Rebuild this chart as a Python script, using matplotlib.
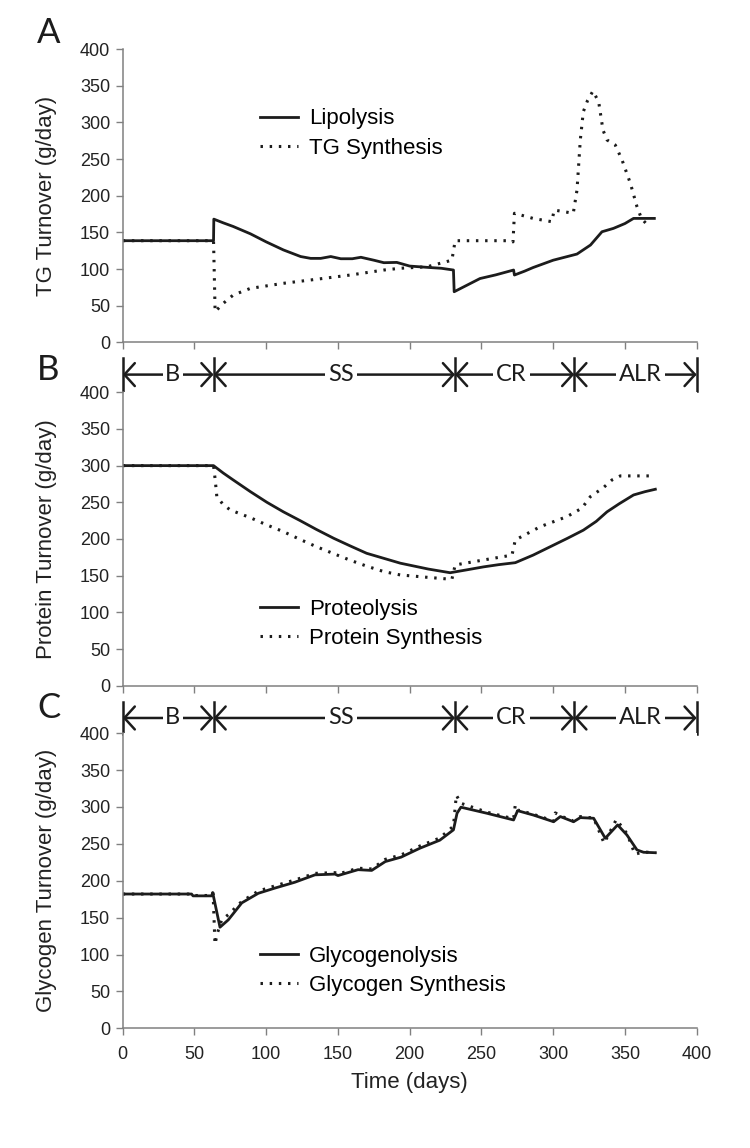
import matplotlib
matplotlib.use('Agg')
import matplotlib.pyplot as plt
import matplotlib.transforms as mtransforms

plt.rcParams['font.family'] = ['Liberation Sans', 'DejaVu Sans']

# ---- Panel A: TG turnover ----
lipo_t = [0, 63.3, 63.5, 70, 77, 89, 100, 112, 124, 131, 138, 145, 152, 160, 166, 175, 182,
          191, 200, 214, 222, 230.5, 231, 240, 249, 260, 272.4, 273, 280, 286, 300, 316.6,
          326, 334, 342, 350, 356, 370.5]
lipo = [138.6, 138.6, 168, 163, 158, 148, 137, 126, 117, 114.5, 114.5, 117, 114, 114, 116, 112,
        108.6, 109, 104, 102, 101, 98.6, 69, 78, 87, 92, 98.6, 91.8, 97, 102, 112, 120.4,
        132.7, 150.8, 155.4, 162, 169, 169]
tgs_t = [0, 63.3, 64.4, 70, 77, 89, 112, 135, 158.6, 182, 193.4, 212, 229.4, 231.7, 270, 272,
         273, 286, 299, 300.7, 314, 316.6, 318.9, 321, 324, 327.7, 331.7, 334.7, 337.5, 343.3,
         348, 353.8, 358.4, 361.5, 367.2]
tgs = [138.6, 138.6, 41.8, 53, 64.5, 73.6, 80.5, 86, 91.8, 98.6, 101, 103, 112, 138.6, 138.6,
       137, 176, 169, 164.5, 180.4, 176, 207.7, 276, 314.5, 330, 342.7, 328, 289.5, 276, 269,
       248.6, 216.8, 185, 169, 156.8]

# ---- Panel B: protein turnover ----
prot_t = [0, 63.3, 70, 77, 89, 100.5, 112, 123.7, 135, 147, 158.6, 170, 182, 193.5, 213, 228.2,
          240, 251.5, 262, 273.6, 286, 298, 310, 321, 330, 337.5, 346, 356, 364, 371.2]
prot = [300, 300, 290, 280.5, 264.5, 250, 237, 225, 213, 201, 190.5, 180.5, 173.6, 167, 159, 154,
        158, 162, 165, 167.7, 178, 189.5, 201, 212, 224, 237, 248, 260, 264.5, 267.8]
psyn_t = [0, 63.3, 64.5, 65.6, 70, 75, 89, 100, 112, 123.5, 135, 147, 158.6, 170, 182, 193.4,
          212, 229.4, 231.7, 251.5, 271.3, 273.6, 291, 309.6, 320, 325.9, 335, 341, 346.8, 367.7]
psyn = [300, 300, 280, 257.7, 247, 239.5, 229, 219.5, 210, 199.5, 189.5, 180, 171, 163, 155.5,
        151, 147.8, 145, 164.6, 171.4, 178, 198.7, 216.8, 230.5, 242, 257.7, 270, 280.5, 286, 286]

# ---- Panel C: glycogen turnover ----
glyc_t = [0, 48, 49, 62, 62.7, 67.8, 73.6, 83, 94.5, 106, 120, 134, 148, 150, 164, 173.5, 183,
          194, 207, 221, 230.5, 233, 235.7, 253.8, 272.4, 275.2, 286.3, 300.3, 305, 314.2,
          318.9, 328.2, 336.3, 344.9, 351.4, 358.4, 363, 371.2]
glyc = [182, 182, 179.5, 179.5, 184, 137, 147, 170, 183, 190, 198, 208, 209, 207, 215, 214, 226,
        232, 244, 255, 269, 291.5, 299.7, 291.5, 282.4, 295, 289, 280, 287, 280, 285.6, 284.7,
        257.6, 275.7, 262, 241.8, 238.6, 238]
gsyn_t = [0, 48, 49, 62, 63, 64.3, 66, 69, 73.6, 83, 94.5, 106, 120, 134, 148, 150, 164, 173.5,
          183, 194, 207, 221, 230.5, 232.5, 235.7, 253.8, 272.4, 273.6, 275.2, 286.3, 300.3,
          301.5, 305, 314.2, 318.9, 328.2, 335.5, 344, 351.4, 357, 363, 371.2]
gsyn = [182, 182, 180, 180, 183, 114, 129, 147, 154, 172, 186, 193, 201, 210, 211, 209, 217, 216,
        229, 235, 247, 258, 274, 316, 305, 293, 284, 303, 296, 290, 281, 292, 288, 281, 287, 285,
        251, 283, 264, 236, 239, 238]

# phases
phase_edges = [0, 63.3, 231.6, 314.7, 400]
phase_labels = ['B', 'SS', 'CR', 'ALR']
phase_label_x = [35, 152, 271, 361]

panels = [
    ('A', 'TG Turnover (g/day)', lipo_t, lipo, 'Lipolysis', tgs_t, tgs, 'TG Synthesis', 0.712),
    ('B', 'Protein Turnover (g/day)', prot_t, prot, 'Proteolysis', psyn_t, psyn, 'Protein Synthesis', 0.21),
    ('C', 'Glycogen Turnover (g/day)', glyc_t, glyc, 'Glycogenolysis', gsyn_t, gsyn, 'Glycogen Synthesis', 0.194),
]
ax_rects = [
    [0.1636, 0.7018, 0.7653, 0.2555],
    [0.1636, 0.4027, 0.7653, 0.2556],
    [0.1636, 0.1043, 0.7653, 0.2570],
]
letter_y = [1148 - 43, 1148 - 380, 1148 - 718]

ink = '#1c1c1c'
axis_gray = '#808080'
thin_font = ['Lato', 'DejaVu Sans']

fig = plt.figure(figsize=(7.5, 11.48), dpi=100)
axes = []
for i, (letter, ylab, t1, y1, l1, t2, y2, l2, leg_y) in enumerate(panels):
    ax = fig.add_axes(ax_rects[i])
    axes.append(ax)
    ax.plot(t1, y1, color=ink, lw=2.0, label=l1)
    ax.plot(t2, y2, color=ink, lw=2.2, linestyle=(0, (0.8, 2.2)), label=l2)
    ax.set_xlim(0, 400)
    ax.set_ylim(0, 400)
    ax.set_xticks(range(0, 401, 50))
    ax.set_yticks(range(0, 401, 50))
    for s in ['top', 'right']:
        ax.spines[s].set_visible(False)
    for s in ['left', 'bottom']:
        ax.spines[s].set_color(axis_gray)
        ax.spines[s].set_linewidth(1.1)
    ax.tick_params(direction='out', length=5, width=1, color=axis_gray,
                   labelsize=13, labelcolor='#222222')
    ax.tick_params(axis='y', pad=4)
    ax.tick_params(axis='x', pad=8)
    if i < 2:
        ax.tick_params(axis='x', labelbottom=False)
    ax.set_ylabel(ylab, fontsize=16, color='#222222')
    ax.yaxis.set_label_coords(-0.114, 0.5)
    ax.legend(loc='center left', bbox_to_anchor=(0.239, leg_y), frameon=False,
              borderpad=0, borderaxespad=0, handlelength=1.7, handletextpad=0.5,
              labelspacing=0.37, fontsize=16)
    fig.text(37 / 750, letter_y[i] / 1148, letter, fontsize=25, family=thin_font,
             color=ink, ha='left', va='baseline')

axes[2].set_xlabel('Time (days)', fontsize=16, color='#222222', labelpad=6)

# phase bars below panels A and B
for ax in axes[:2]:
    trans = mtransforms.blended_transform_factory(ax.transData, ax.transAxes)
    yb = -0.11
    for a, b in zip(phase_edges[:-1], phase_edges[1:]):
        ax.annotate('', xy=(a, yb), xytext=(b, yb), xycoords=trans, textcoords=trans,
                    arrowprops=dict(arrowstyle='<->,head_length=0.5,head_width=0.55',
                                    lw=1.8, color=ink, shrinkA=0, shrinkB=0,
                                    mutation_scale=15),
                    annotation_clip=False)
    for e in phase_edges:
        ax.plot([e, e], [yb - 0.055, yb + 0.055], transform=trans, color=ink, lw=1.8,
                clip_on=False)
    for lab, lx in zip(phase_labels, phase_label_x):
        ax.text(lx, yb, lab, transform=trans, ha='center', va='center', fontsize=17,
                family=thin_font, color=ink,
                bbox=dict(fc='white', ec='none', pad=2))

fig.savefig('out.png', dpi=100)
